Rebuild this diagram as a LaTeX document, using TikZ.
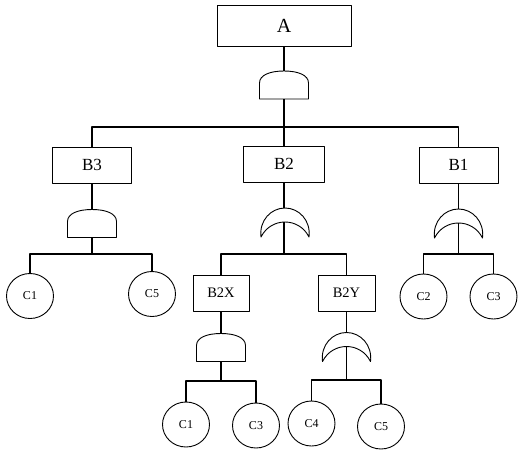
\documentclass[tikz,border=0pt]{standalone}
\usepackage{fontspec}
\setmainfont{Liberation Serif}
\usetikzlibrary{shapes.geometric}
\tikzset{
	evt/.style={draw, line width=.9pt, inner sep=0pt, minimum width=80pt, minimum height=36pt, font=\fontsize{17}{17}\selectfont},
	basic/.style={draw, line width=.9pt, ellipse, inner sep=0pt, minimum width=47pt, minimum height=45pt, font=\fontsize{12}{12}\selectfont},
	andgate/.pic={
		\draw[line width=.9pt] (-24.5,14) -- (-24.5,-2) .. controls (-24.5,-10) and (-14,-14) .. (0,-14)
			.. controls (14,-14) and (24.5,-10) .. (24.5,-2) -- (24.5,14) -- cycle;
		\coordinate (-in) at (0,-14);
		\coordinate (-out) at (0,14);
	},
	orgate/.pic={
		\draw[line width=.9pt] (-24,14.5) .. controls (-26,-2) and (-14,-14.5) .. (0,-14.5)
			.. controls (14,-14.5) and (26,-2) .. (24,14.5)
			.. controls (14,-5.5) and (-14,-5.5) .. cycle;
		\coordinate (-in) at (0,-14.5);
		\coordinate (-out) at (0,-0.5);
	}
}
\begin{document}
\begin{tikzpicture}[x=1pt, y=-1pt, line width=1.2pt, line join=round]
	\useasboundingbox (0,0) rectangle (520,456);
	% top event
	\node[evt, minimum width=134pt, minimum height=41pt, font=\fontsize{20}{20}\selectfont] (A) at (284,25.5) {A};
	\pic (gA) at (284,85) {andgate};
	\coordinate (jA) at (284,127);
	\node[evt, minimum width=79pt] (B3) at (92,165) {B3};
	\node[evt, minimum width=81pt] (B2) at (284,164) {B2};
	\node[evt, minimum width=79pt] (B1) at (458.5,165) {B1};
	\draw (A) -- (gA-in);
	\draw (gA-out) -- (jA);
	\draw (jA) -| (B3.north);
	\draw (jA) -- (B2.north);
	\draw (jA) -| (B1.north);
	% B3
	\pic (g3) at (92,223.5) {andgate};
	\coordinate (j3) at (92,254);
	\node[basic] (C1a) at (30,296) {C1};
	\node[basic] (C5a) at (152,294) {C5};
	\draw (B3) -- (g3-in);
	\draw (g3-out) -- (j3);
	\draw (j3) -| (C1a.north);
	\draw (j3) -| (C5a.north);
	% B2
	\pic (g2) at (285,222.5) {orgate};
	\coordinate (j2) at (284,254);
	\node[evt, minimum width=56pt, font=\fontsize{14.5}{14.5}\selectfont] (B2X) at (221,293) {B2X};
	\node[evt, minimum width=57pt, font=\fontsize{14.5}{14.5}\selectfont] (B2Y) at (346.5,293) {B2Y};
	\draw (B2) -- (g2-in -| B2);
	\draw (g2-out -| B2) -- (j2);
	\draw (j2) -| (B2X.north);
	\draw (j2) -| (B2Y.north);
	% B2X
	\pic (g2x) at (221,347.5) {andgate};
	\coordinate (j2x) at (221,381);
	\node[basic] (C1b) at (186,424.5) {C1};
	\node[basic] (C3b) at (256,425.5) {C3};
	\draw (B2X) -- (g2x-in);
	\draw (g2x-out) -- (j2x);
	\draw (j2x) -| (C1b.north);
	\draw (j2x) -| (C3b.north);
	% B2Y
	\pic (g2y) at (346.5,347) {orgate};
	\coordinate (j2y) at (346.5,380);
	\node[basic] (C4) at (311.5,423.5) {C4};
	\node[basic] (C5b) at (381,426.5) {C5};
	\draw (B2Y) -- (g2y-in);
	\draw (g2y-out) -- (j2y);
	\draw (j2y) -| (C4.north);
	\draw (j2y) -| (C5b.north);
	% B1
	\pic (g1) at (458.5,223.5) {orgate};
	\coordinate (j1) at (458.5,254);
	\node[basic] (C2) at (423.5,296.5) {C2};
	\node[basic] (C3) at (493.5,296.5) {C3};
	\draw (B1) -- (g1-in);
	\draw (g1-out) -- (j1);
	\draw (j1) -| (C2.north);
	\draw (j1) -| (C3.north);
\end{tikzpicture}
\end{document}
